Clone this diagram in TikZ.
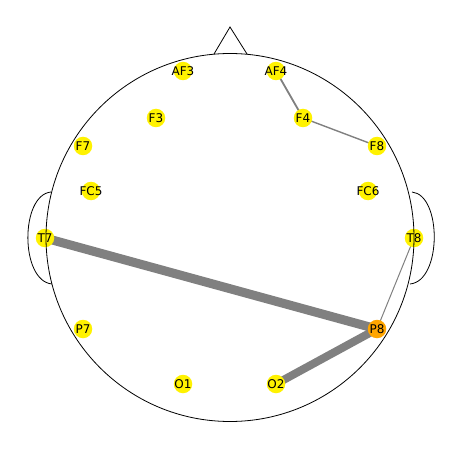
\documentclass[tikz,border=0pt]{standalone}
\usepackage{fontspec}
\setmainfont{DejaVu Sans}
\usepackage{tikz}
\usetikzlibrary{backgrounds}

\definecolor{hotorange}{RGB}{255,165,0}
\newcommand{\chlabel}[1]{\makebox[0pt]{#1}}
\tikzset{
    sensor/.style={circle, fill=yellow, inner sep=0pt, minimum size=18.5pt,
        font=\fontsize{12}{14}\selectfont},
    hotsensor/.style={sensor, fill=hotorange},
    link/.style={draw=gray, line cap=butt}
}

\begin{document}
\begin{tikzpicture}[x=1pt, y=-1pt]
        \useasboundingbox (0,0) rectangle (460,449);

        % Sensors
        \foreach \n/\x/\y in {AF3/183/71, AF4/276/71, F3/156/118, F4/303/118,
                F7/83/146, F8/377/146, FC5/91/191, FC6/368/191, T7/45/238,
                T8/414/238, P7/83/329, O1/183/384, O2/276/384}
            \node[sensor] (\n) at (\x,\y) {\chlabel{\n}};
        \node[hotsensor] (P8) at (377,329) {\chlabel{P8}};

        % Connections
        \begin{scope}[on background layer]
            \draw[link, line width=1.8pt] (AF4.center) -- (F4.center);
            \draw[link, line width=1.4pt] (F4.center) -- (F8.center);
            \draw[link, line width=1pt] (T8.center) -- (P8.center);
            \draw[link, line width=9pt] (T7.center) -- (P8.center);
            \draw[link, line width=8pt] (O2.center) -- (P8.center);
        \end{scope}

        % Head outline
        \draw[line width=0.8pt] (230,237.5) circle (184);
        \draw[line width=0.8pt] (214,54) -- (230,27) -- (247,54);
        \draw[line width=0.8pt] (51,192) .. controls (20,195) and (20,281) .. (52,284);
        \draw[line width=0.8pt] (412,192) .. controls (442,195) and (442,281) .. (410,284);
    \end{tikzpicture}
\end{document}
